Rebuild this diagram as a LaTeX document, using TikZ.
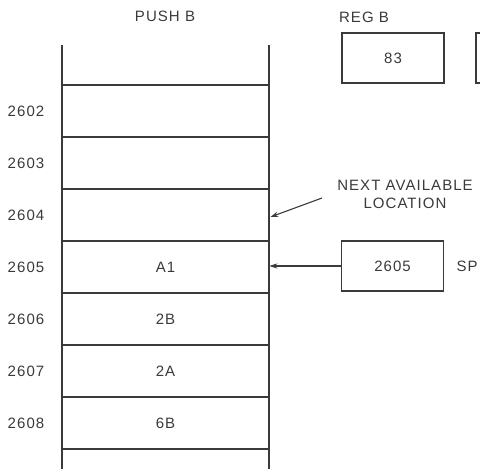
\documentclass[tikz,border=0pt]{standalone}
\usepackage{fontspec}
\setmainfont{Liberation Sans}[LetterSpace=7]
\usepackage{tikz}
\usetikzlibrary{arrows.meta,positioning,calc}
\definecolor{inkline}{HTML}{3A3A3A}
\tikzset{
  cell/.style={rectangle,minimum width=103.5pt,minimum height=26pt,inner sep=0pt,
    font=\fontsize{7.5}{9}\selectfont,text=inkline},
  addr/.style={font=\fontsize{7.5}{9}\selectfont,text=inkline},
  regbox/.style={rectangle,draw=inkline,line width=0.6pt,minimum width=51pt,minimum height=25pt,
    inner sep=0pt,font=\fontsize{7.5}{9}\selectfont,text=inkline},
  lbl/.style={font=\fontsize{7.5}{9}\selectfont,text=inkline,align=center,inner sep=0pt},
  stackline/.style={draw=inkline,line width=0.6pt},
  ptr/.style={-{Stealth[length=4pt,width=2.6pt]},line width=0.55pt,draw=inkline},
}
\begin{document}
\begin{tikzpicture}[x=0.5pt,y=-0.5pt]
  \useasboundingbox (0,0) rectangle (480,469);
  \clip (0,0) rectangle (480,469);
  % stack
  \draw[stackline] (62,45) -- (62,469) (269,45) -- (269,469);
  \foreach \yy in {85,137,189,241,293,345,397,449}
    \draw[stackline] (62,\yy) -- (269,\yy);
  \node[lbl] (push) at (165,16) {PUSH B};
  \foreach \adr/\val [count=\i from 0] in {2602/,2603/,2604/,2605/A1,2606/2B,2607/2A,2608/6B} {
    \node[cell] (c\adr) at (165.5,111+52*\i) {\val};
    \node[addr] (a\adr) at (26,111+52*\i) {\adr};
  }
  % registers
  \node[lbl] (regb) at (364,17) {REG B};
  \node[regbox] (b83) at (393,58) {83};
  \draw[stackline] (480,33) -- (476,33) -- (476,83) -- (480,83);
  \node[regbox] (sp) at (392.5,266) {2605};
  \node[lbl,right=6pt of sp] (splbl) {SP};
  \draw[ptr] (sp.west) -- (sp.west -| c2605.east);
  \node[lbl] (next) at (405,194) {NEXT AVAILABLE\\LOCATION};
  \coordinate (nxt) at (322,198);
  \draw[ptr] (nxt) -- ($(c2604.east)+(1,2)$);
\end{tikzpicture}
\end{document}
